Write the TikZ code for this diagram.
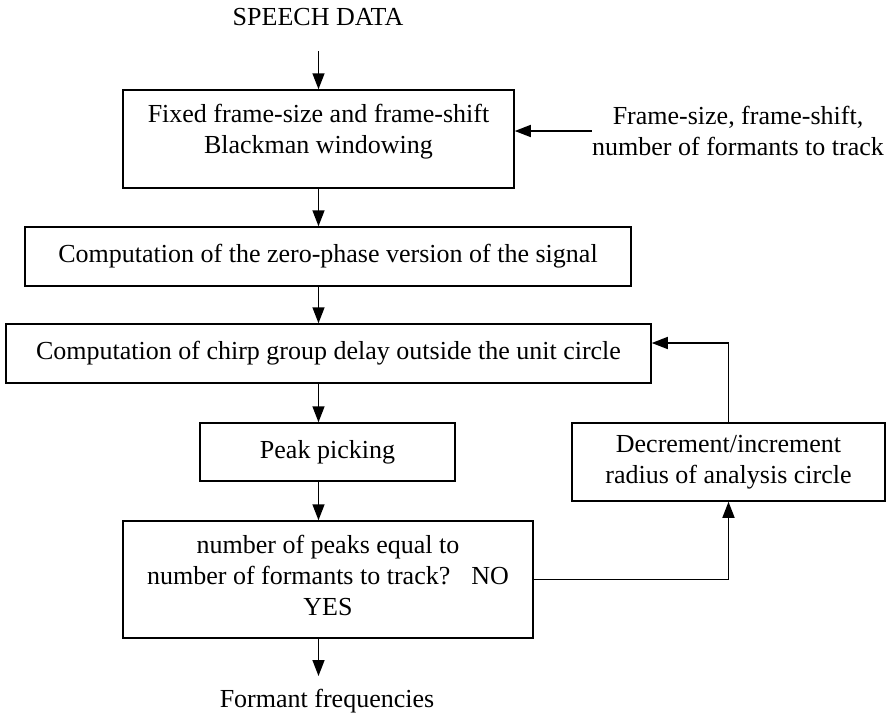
\documentclass[tikz,border=0pt]{standalone}
\usepackage{fontspec}
\setmainfont{Liberation Serif}
\usetikzlibrary{arrows.meta}
\begin{document}
\begin{tikzpicture}[x=1pt,y=-1pt,
  every node/.style={font=\fontsize{26}{31}\selectfont},
  box/.style={draw, line width=1.5pt, inner sep=0pt, align=center},
  txt/.style={inner sep=0pt, align=center},
  arr/.style={line width=1.5pt, -{Triangle[length=16pt,width=12pt]}}]
\useasboundingbox (0,0) rectangle (889,718);
% title
\node[txt] (speech) at (318,17) {SPEECH DATA};
\coordinate (s0) at (318.5,51);
% box 1
\node[box, minimum width=391pt, minimum height=98pt] (b1) at (318.5,139) {};
\node[txt] (t1) at (318.5,132) {Fixed frame-size and frame-shift\\Blackman windowing};
% side input
\node[txt] (side) at (738,131) {Frame-size, frame-shift,\\number of formants to track};
% box 2
\node[box, minimum width=606pt, minimum height=59pt] (b2) at (328,256.5) {Computation of the zero-phase version of the signal};
% box 3
\node[box, minimum width=645pt, minimum height=59pt] (b3) at (328.5,353.5) {Computation of chirp group delay outside the unit circle};
% box 4
\node[box, minimum width=255pt, minimum height=58pt] (b4) at (327.5,452) {Peak picking};
% box 5
\node[box, minimum width=410pt, minimum height=117pt] (b5) at (328,579.5) {};
\node[txt] (t5) at (328,575) {number of peaks equal to\\number of formants to track?\hspace{21pt}NO\\YES};
% box 6
\node[box, minimum width=313pt, minimum height=78pt] (b6) at (728.5,462) {Decrement/increment\\radius of analysis circle};
% output
\coordinate (e0) at (318.5,676);
\node[txt] (out) at (327,701) {Formant frequencies};
% connectors
\draw[arr] (s0) -- (b1.north);
\draw[arr] (side.west) -- (side.west -| b1.east);
\draw[arr] (b1.south) -- (b1.south |- b2.north);
\draw[arr] (b2.south -| b1.south) -- (b3.north -| b1.south);
\draw[arr] (b3.south -| b1.south) -- (b4.north -| b1.south);
\draw[arr] (b4.south -| b1.south) -- (b5.north -| b1.south);
\draw[arr] (b5.south -| b1.south) -- (e0);
\draw[arr] (b5.east) -| (b6.south);
\draw[arr] (b6.north) |- ([yshift=10.5pt]b3.east);
\end{tikzpicture}
\end{document}
